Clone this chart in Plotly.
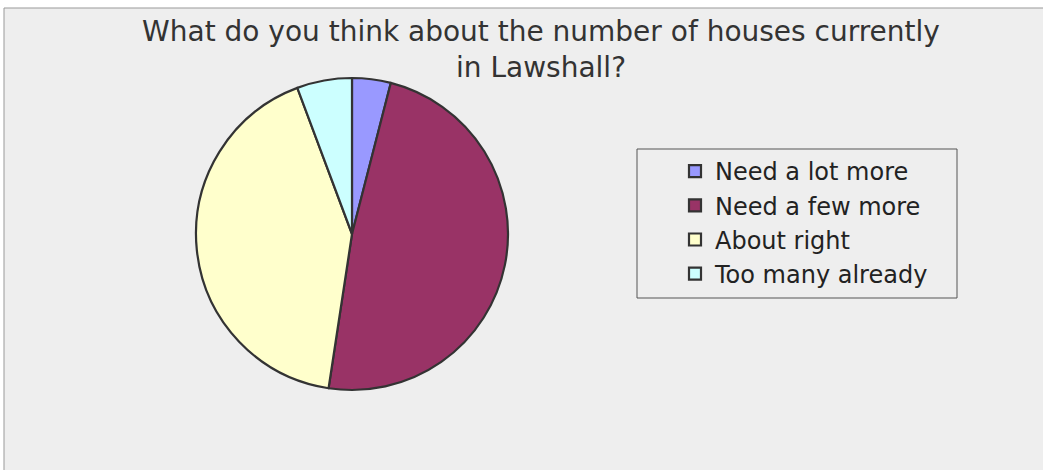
import plotly.graph_objects as go

categories = ["Need a lot more", "Need a few more", "About right", "Too many already"]
values = [4.0, 48.4, 41.9, 5.7]
colors = ["#9999FF", "#993366", "#FFFFCC", "#CCFFFF"]
title_text = "What do you think about the number of houses currently<br>in Lawshall?"

W, H = 1043, 470

fig = go.Figure()
fig.add_trace(go.Pie(
    labels=categories,
    values=values,
    sort=False,
    direction="clockwise",
    rotation=0,
    textinfo="none",
    hoverinfo="label+percent",
    marker=dict(colors=colors, line=dict(color="#333333", width=2.2)),
    domain=dict(x=[196 / W, 508 / W], y=[1 - 390 / H, 1 - 78 / H]),
))

fig.update_layout(
    width=W, height=H,
    margin=dict(l=0, r=0, t=0, b=0),
    paper_bgcolor="white",
    plot_bgcolor="white",
    font=dict(family="DejaVu Sans, Verdana, sans-serif", color="#333333"),
    title=dict(text=title_text, x=541 / W, xanchor="center", y=1 - 40.5 / H, yanchor="top",
               font=dict(size=28, color="#333333")),
    legend=dict(x=675 / W, xanchor="left", y=1 - 149 / H, yanchor="top",
                bgcolor="rgba(0,0,0,0)", borderwidth=0,
                font=dict(size=24, color="#222222")),
    shapes=[
        dict(type="rect", xref="paper", yref="paper", layer="below",
             x0=4 / W, x1=1.02, y0=-0.02, y1=1 - 8 / H,
             fillcolor="#EEEEEE", line=dict(color="#999999", width=1)),
        dict(type="rect", xref="paper", yref="paper", layer="below",
             x0=637 / W, x1=957 / W, y0=1 - 298 / H, y1=1 - 149 / H,
             fillcolor="#EEEEEE", line=dict(color="#555555", width=1)),
    ],
)

fig.write_html("out.html", config={"displayModeBar": False},
               post_script="document.body.style.margin='0';")
